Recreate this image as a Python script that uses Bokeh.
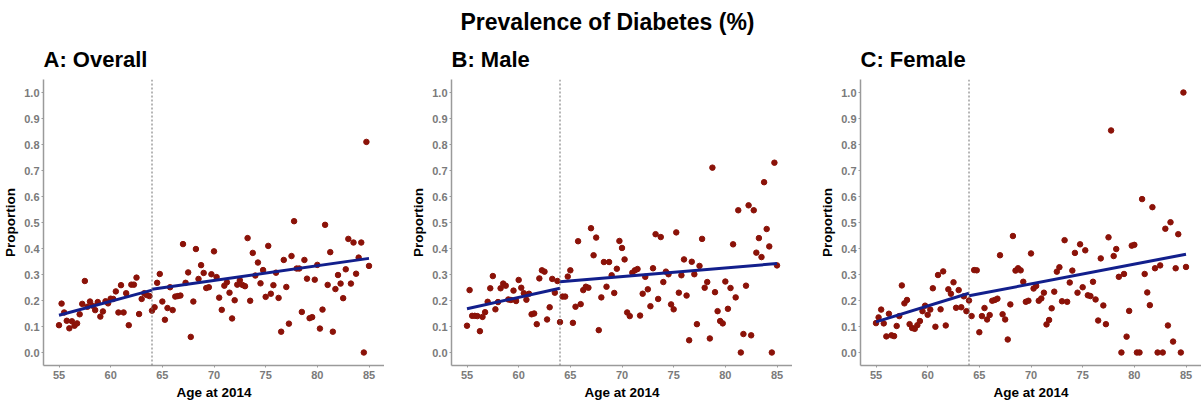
from bokeh.plotting import figure
from bokeh.layouts import column, row
from bokeh.models import Range1d, FixedTicker, Span, Label, PrintfTickFormatter
from bokeh.embed import file_html
from bokeh.resources import INLINE

# ---------------- data ----------------
ages = [55 + 0.25 * i for i in range(121)]  # quarterly ages 55..85

overall = [0.105, 0.188, 0.154, 0.122, 0.093, 0.12, 0.103, 0.112, 0.147, 0.187,
           0.275, 0.176, 0.196, 0.18, 0.163, 0.194, 0.138, 0.158, 0.197, 0.189,
           0.207, 0.206, 0.235, 0.154, 0.259, 0.154, 0.228, 0.105, 0.261, 0.261,
           0.288, 0.148, 0.206, 0.228, 0.221, 0.217, 0.161, 0.174, 0.268, 0.302,
           0.196, 0.126, 0.171, 0.251, 0.163, 0.215, 0.217, 0.219, 0.417, 0.268,
           0.308, 0.06, 0.196, 0.398, 0.283, 0.336, 0.306, 0.248, 0.251, 0.301,
           0.389, 0.29,
           0.211, 0.164, 0.257, 0.270, 0.23, 0.131, 0.201, 0.261, 0.278, 0.26,
           0.255, 0.44, 0.199, 0.383, 0.296, 0.346, 0.266, 0.317, 0.214, 0.41,
           0.226, 0.259, 0.307, 0.21, 0.08, 0.356, 0.252, 0.111, 0.371, 0.505,
           0.323, 0.323, 0.156, 0.356, 0.284, 0.132, 0.136, 0.28, 0.337, 0.092,
           0.165, 0.491, 0.26, 0.386, 0.08, 0.244, 0.298, 0.265, 0.209, 0.32,
           0.437, 0.265, 0.423, 0.303, 0.365, 0.423, 0.0, 0.81, 0.333]

male = [0.103, 0.24, 0.141, 0.141, 0.14, 0.082, 0.137, 0.155, 0.195, 0.247,
        0.294, 0.166, 0.194, 0.247, 0.265, 0.257, 0.204, 0.202, 0.238, 0.198,
        0.279, 0.249, 0.228, 0.203, 0.226, 0.147, 0.15, 0.109, 0.285, 0.316,
        0.311, 0.127, 0.174, 0.283, 0.23, 0.275, 0.117, 0.215, 0.215, 0.292,
        0.316, 0.114, 0.176, 0.428, 0.186, 0.24, 0.253, 0.249,
        0.478, 0.374, 0.442, 0.086, 0.212, 0.348, 0.253, 0.348, 0.297, 0.229,
        0.322, 0.429, 0.402, 0.358, 0.154, 0.14, 0.307, 0.316, 0.321, 0.142,
        0.226, 0.291, 0.243, 0.178, 0.324, 0.455, 0.206, 0.444, 0.271, 0.311,
        0.301, 0.185, 0.166, 0.462, 0.23, 0.297, 0.358, 0.219, 0.047, 0.349,
        0.301, 0.109, 0.333, 0.437, 0.249, 0.271, 0.054, 0.711, 0.232, 0.159,
        0.121, 0.112, 0.273, 0.168, 0.248, 0.416, 0.212, 0.547, 0.0, 0.071,
        0.257, 0.566, 0.066, 0.547, 0.384, 0.44, 0.367, 0.655, 0.475, 0.408,
        0.0, 0.73, 0.335]

female = [0.113, 0.135, 0.165, 0.112, 0.062, 0.149, 0.066, 0.063, 0.102, 0.14,
          0.258, 0.189, 0.202, 0.109, 0.094, 0.091, 0.105, 0.121, 0.159, 0.18,
          0.145, 0.165, 0.247, 0.099, 0.298, 0.166, 0.312, 0.104, 0.243, 0.226,
          0.27, 0.172, 0.24, 0.174, 0.216, 0.159, 0.2, 0.14, 0.317, 0.316,
          0.078, 0.14, 0.171, 0.127, 0.144, 0.199, 0.202, 0.207, 0.374, 0.147,
          0.127, 0.05, 0.185, 0.448, 0.315, 0.324, 0.316, 0.272, 0.195, 0.199,
          0.381, 0.246, 0.256, 0.199, 0.208, 0.23, 0.108, 0.125, 0.17, 0.234,
          0.311, 0.328, 0.197, 0.432, 0.195, 0.269, 0.315, 0.383, 0.23, 0.416,
          0.251, 0.393, 0.22, 0.217, 0.272, 0.204, 0.123, 0.362, 0.181, 0.109,
          0.443, 0.854, 0.371, 0.398, 0.291, 0.0, 0.302, 0.061, 0.16, 0.411,
          0.414, 0.0, 0.0, 0.59, 0.302, 0.231, 0.182, 0.559, 0.324, 0.0,
          0.335, 0.0, 0.476, 0.104, 0.501, 0.042, 0.324, 0.455, 0.0, 1.0,
          0.329]

# piecewise fitted lines (break at age 64)
fit_x_pre = [55, 64]
fit_x_post = [64, 85]
overall_fit_pre = [0.143, 0.240]
overall_fit_post = [0.243, 0.362]
male_fit_pre = [0.168, 0.247]
male_fit_post = [0.272, 0.342]
female_fit_pre = [0.118, 0.228]
female_fit_post = [0.218, 0.378]

break_age = 64
x_ticks = [55, 60, 65, 70, 75, 80, 85]
y_ticks = [0.0, 0.1, 0.2, 0.3, 0.4, 0.5, 0.6, 0.7, 0.8, 0.9, 1.0]

main_title = "Prevalence of Diabetes (%)"
panel_titles = ["A: Overall", "B: Male", "C: Female"]
x_label = "Age at 2014"
y_label = "Proportion"

# ---------------- styling ----------------
FONT = "Liberation Sans"
POINT_COLOR = "#8b1208"
LINE_COLOR = "#121f8c"
AXIS_COLOR = "#9a9a9a"
TICK_LABEL_COLOR = "#7a7a7a"
FRAME_W = 341
LEFTS = [36, 67, 68]


def make_panel(title, vals, fit_pre, fit_post, left):
    p = figure(frame_width=FRAME_W, frame_height=286,
               x_range=Range1d(53.5, 86.5), y_range=Range1d(-0.05, 1.05),
               output_backend="svg", toolbar_location=None,
               min_border_left=left, min_border_right=0,
               min_border_top=43, min_border_bottom=10,
               title=title)
    p.title.text_font = FONT
    p.title.text_font_size = "22px"
    p.title.text_font_style = "bold"
    p.title.align = "left"
    p.title.offset = 0
    p.title.standoff = 15
    p.title.text_color = "#000000"
    p.xgrid.visible = False
    p.ygrid.visible = False
    p.outline_line_color = None
    p.background_fill_color = "white"
    p.border_fill_color = "white"

    p.xaxis.ticker = FixedTicker(ticks=x_ticks)
    p.yaxis.ticker = FixedTicker(ticks=y_ticks)
    p.yaxis.formatter = PrintfTickFormatter(format="%.1f")
    for ax in (p.xaxis, p.yaxis):
        ax.axis_line_color = AXIS_COLOR
        ax.axis_line_width = 1.5
        ax.major_tick_line_color = AXIS_COLOR
        ax.major_tick_out = 2
        ax.major_tick_in = 0
        ax.minor_tick_line_color = None
        ax.major_label_text_font = FONT
        ax.major_label_text_font_size = "11px"
        ax.major_label_text_font_style = "bold"
        ax.major_label_text_color = TICK_LABEL_COLOR
        ax.axis_label_text_font = FONT
        ax.axis_label_text_font_size = "13.5px"
        ax.axis_label_text_font_style = "bold"
        ax.axis_label_text_color = "#000000"
        ax.axis_label_standoff = 3
    p.xaxis.major_label_standoff = 3
    p.yaxis.major_label_standoff = 2
    p.xaxis.axis_label = x_label
    p.yaxis.axis_label = y_label

    p.add_layout(Span(location=break_age, dimension="height",
                      line_color="#6e6e6e", line_dash="2 2", line_width=1))
    p.scatter(ages, vals, size=5.5, color=POINT_COLOR)
    p.line(fit_x_pre, fit_pre, line_color=LINE_COLOR, line_width=3)
    p.line(fit_x_post, fit_post, line_color=LINE_COLOR, line_width=3)
    return p


p1 = make_panel(panel_titles[0], overall, overall_fit_pre, overall_fit_post, LEFTS[0])
p2 = make_panel(panel_titles[1], male, male_fit_pre, male_fit_post, LEFTS[1])
p3 = make_panel(panel_titles[2], female, female_fit_pre, female_fit_post, LEFTS[2])

t = figure(width=sum(LEFTS) + 3 * FRAME_W, height=36,
           x_range=Range1d(0, 1), y_range=Range1d(0, 1),
           output_backend="svg", toolbar_location=None,
           x_axis_location=None, y_axis_location=None, min_border=0)
t.xgrid.visible = False
t.ygrid.visible = False
t.outline_line_color = None
t.add_layout(Label(x=607, y=14.5, x_units="screen", y_units="screen",
                   text=main_title, text_align="center", text_baseline="alphabetic",
                   text_font=FONT, text_font_size="23px", text_font_style="bold",
                   text_color="#000000"))

layout = column(t, row(p1, p2, p3))
open("out.html", "w").write(file_html(layout, INLINE))
